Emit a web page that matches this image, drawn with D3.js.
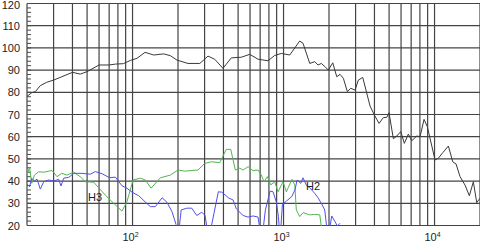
<!DOCTYPE html>
<html>
<head>
<meta charset="utf-8">
<script src="https://cdn.jsdelivr.net/npm/d3@7"></script>
<style>
body { margin: 0; background: #fff; }
text { font-family: "Liberation Sans", Arial, sans-serif; fill: #222; }
</style>
</head>
<body>
<svg id="chart" width="480" height="242"></svg>
<script>
var svg = d3.select('#chart');

// frequency response (black)
var FreqSpl = [20,21.5,22.7,24.5,27,30,34,40,45,50,60,70,77,87,97,107,121,138,161,178,197,
	233,279,316,350,397,451,525,597,678,789,874,967,1099,1280,1346,1491,1609,1692,1780,1883,1980,
	2118,2251,2366,2490,2646,2787,2975,3129,3346,3740,3993,4291,4581,4825,4995,5336,5620,5973,
	6310,6708,7063,7624,8017,8521,8961,10076,10597,11334,12346,13200,13881,14756,15922,17003,
	18072,19030,20000];
var Spl = [78.2,79.8,80.3,83,84.5,85.5,87,89,88.2,89.3,92.3,92.3,92.7,92.9,94.4,95.3,98,96.8,97.3,96.5,94.5,
	93,93,96.3,94.9,90.8,95.5,95.8,97.1,94.9,94.2,96.6,97.5,96.8,103.1,102.1,93,93.8,92.3,93,91.5,90,
	93.3,87,88.1,86.3,80.3,81.8,81,85.5,86.7,73.8,69.8,66,68.6,68.7,70.8,59.1,60.3,62.3,
	57,61.2,58.2,60.3,60,67.8,64.5,49.5,50.3,52.8,55.8,48.7,47.7,42,38.2,33.4,
	39.7,30.3,32.3];

// green harmonic
var FreqGreen = [20,20.8,21.5,22.4,23.9,25.8,29.3,31.6,34,36.8,40.8,45,48.7,55.3,66,75,85.1,91.8,100.8,
	112.6,121.6,132.6,152.8,178,200,221.6,271.5,300.7,332.5,378,418,447,479.6,513,539.5,582,628,678,
	713,743,781,823,874,919,992,1044,1138,1187,1215,1280,1346,1491,1609,1737,1807];
var Green = [43.1,46,39,42.7,44.2,44,44.8,42,43.5,42.7,44,42,39.7,39.5,33.7,30,26.5,30.7,40.5,
	41.3,40.5,36.8,41.5,42.7,45,44.5,45,48,48.7,48.3,54.3,54.3,45,45.8,45,46.5,44.7,45,
	42.7,39.7,42,38.3,39.7,35.2,39.7,35.2,40.8,38.3,27,24,25.8,24.8,25,24.8,16];

// blue harmonic
var FreqBlue = [20,20.8,21.5,22.4,23.3,24.5,25.8,27.9,30,32.4,33.6,35,37.8,40.8,46.3,52.5,56.7,62.8,70.6,
	77,85.1,91.8,99.2,109.9,121,131.2,141.6,156.9,169.2,182.6,194,200,210,228.6,246.7,266.2,287.3,302,
	320,370,389.6,418,431,463,487,539.5,582,628,678,691,720,758,798,814,852,896,925,949,983,1045,1133,
	1190,1230,1300,1346,1420,1491,1560,1609,1692,1780,1874,1927,1971,2085,2193,2272,2366];
var Blue = [38.6,37.5,41.3,40,40.9,36.4,39.7,40.5,40,40.8,37.8,41.3,41.7,43.5,43.5,43.1,44.3,43.3,41.5,
	41.8,37.9,36.8,35,33.4,30.7,28.5,28.5,32.5,30.4,26.2,20.5,14,27,27.8,27.8,24.5,26,24.5,
	14,35.2,35,33.3,32.5,31.5,27.5,24.5,23.8,24.3,23.8,20,14,27,33,35.5,35.2,30.5,24,14,29.5,31,33,
	36,40.5,39,41.5,38,37,35.5,34.5,32.5,30,27,20,14,24.3,21.7,19.8,21];

var yTicks = [20,30,40,50,60,70,80,90,100,110,120];
var xLabels = [100,1000,10000];
var xGrid = [20,30,40,50,60,70,80,90,100,200,300,400,500,600,700,800,900,
	1000,2000,3000,4000,5000,6000,7000,8000,9000,10000,20000];

var x = d3.scaleLog().domain([20,20000]).range([27,480]);
var y = d3.scaleLinear().domain([20,120]).range([225.5,3.5]);

svg.append("defs").append("clipPath").attr("id","plot")
	.append("rect")
	.attr("x",27).attr("y",3)
	.attr("width",453).attr("height",223);

// grid
svg.append("g").selectAll("line")
	.data(xGrid)
	.enter()
	.append("line")
	.attr("x1",function(d){return x(d);})
	.attr("x2",function(d){return x(d);})
	.attr("y1",y(120))
	.attr("y2",y(20))
	.attr("stroke","#444")
	.attr("stroke-width",1.2);

svg.append("g").selectAll("line")
	.data(yTicks)
	.enter()
	.append("line")
	.attr("x1",27)
	.attr("x2",480)
	.attr("y1",function(d){return y(d);})
	.attr("y2",function(d){return y(d);})
	.attr("stroke","#444")
	.attr("stroke-width",1.2);

// minor ticks on the left axis
svg.append("g").selectAll("line")
	.data(d3.range(20,121,2))
	.enter()
	.append("line")
	.attr("x1",27)
	.attr("x2",31)
	.attr("y1",function(d){return y(d);})
	.attr("y2",function(d){return y(d);})
	.attr("stroke","#4a4a4a")
	.attr("stroke-width",1);

// tick labels
svg.append("g").selectAll("text")
	.data(yTicks)
	.enter()
	.append("text")
	.attr("x",20)
	.attr("y",function(d){return Math.max(y(d) + 4, 9);})
	.attr("text-anchor","end")
	.attr("font-size","11px")
	.text(function(d){return d;});

var xl = svg.append("g").selectAll("text")
	.data(xLabels)
	.enter()
	.append("text")
	.attr("x",function(d){return x(d) - 2;})
	.attr("y",241)
	.attr("text-anchor","middle")
	.attr("font-size","11px");
xl.append("tspan").text("10");
xl.append("tspan")
	.attr("dy",-4)
	.attr("font-size","7px")
	.text(function(d){return Math.round(Math.log10(d));});

// curves
var line = d3.line()
	.x(function(d){return x(d[0]);})
	.y(function(d){return y(d[1]);});

var curves = [
	{f: FreqGreen, v: Green, c: "#52b552"},
	{f: FreqBlue, v: Blue, c: "#5050ee"},
	{f: FreqSpl, v: Spl, c: "#3a3a3a"}
];

svg.append("g").attr("clip-path","url(#plot)")
	.selectAll("path")
	.data(curves)
	.enter()
	.append("path")
	.attr("d",function(a){return line(d3.zip(a.f,a.v));})
	.attr("fill","none")
	.attr("stroke",function(a){return a.c;})
	.attr("stroke-width",1);

// harmonic labels
svg.append("text").attr("x",88).attr("y",201).attr("font-size","11px").text("H3");
svg.append("text").attr("x",306).attr("y",190).attr("font-size","11px").text("H2");
</script>
</body>
</html>
